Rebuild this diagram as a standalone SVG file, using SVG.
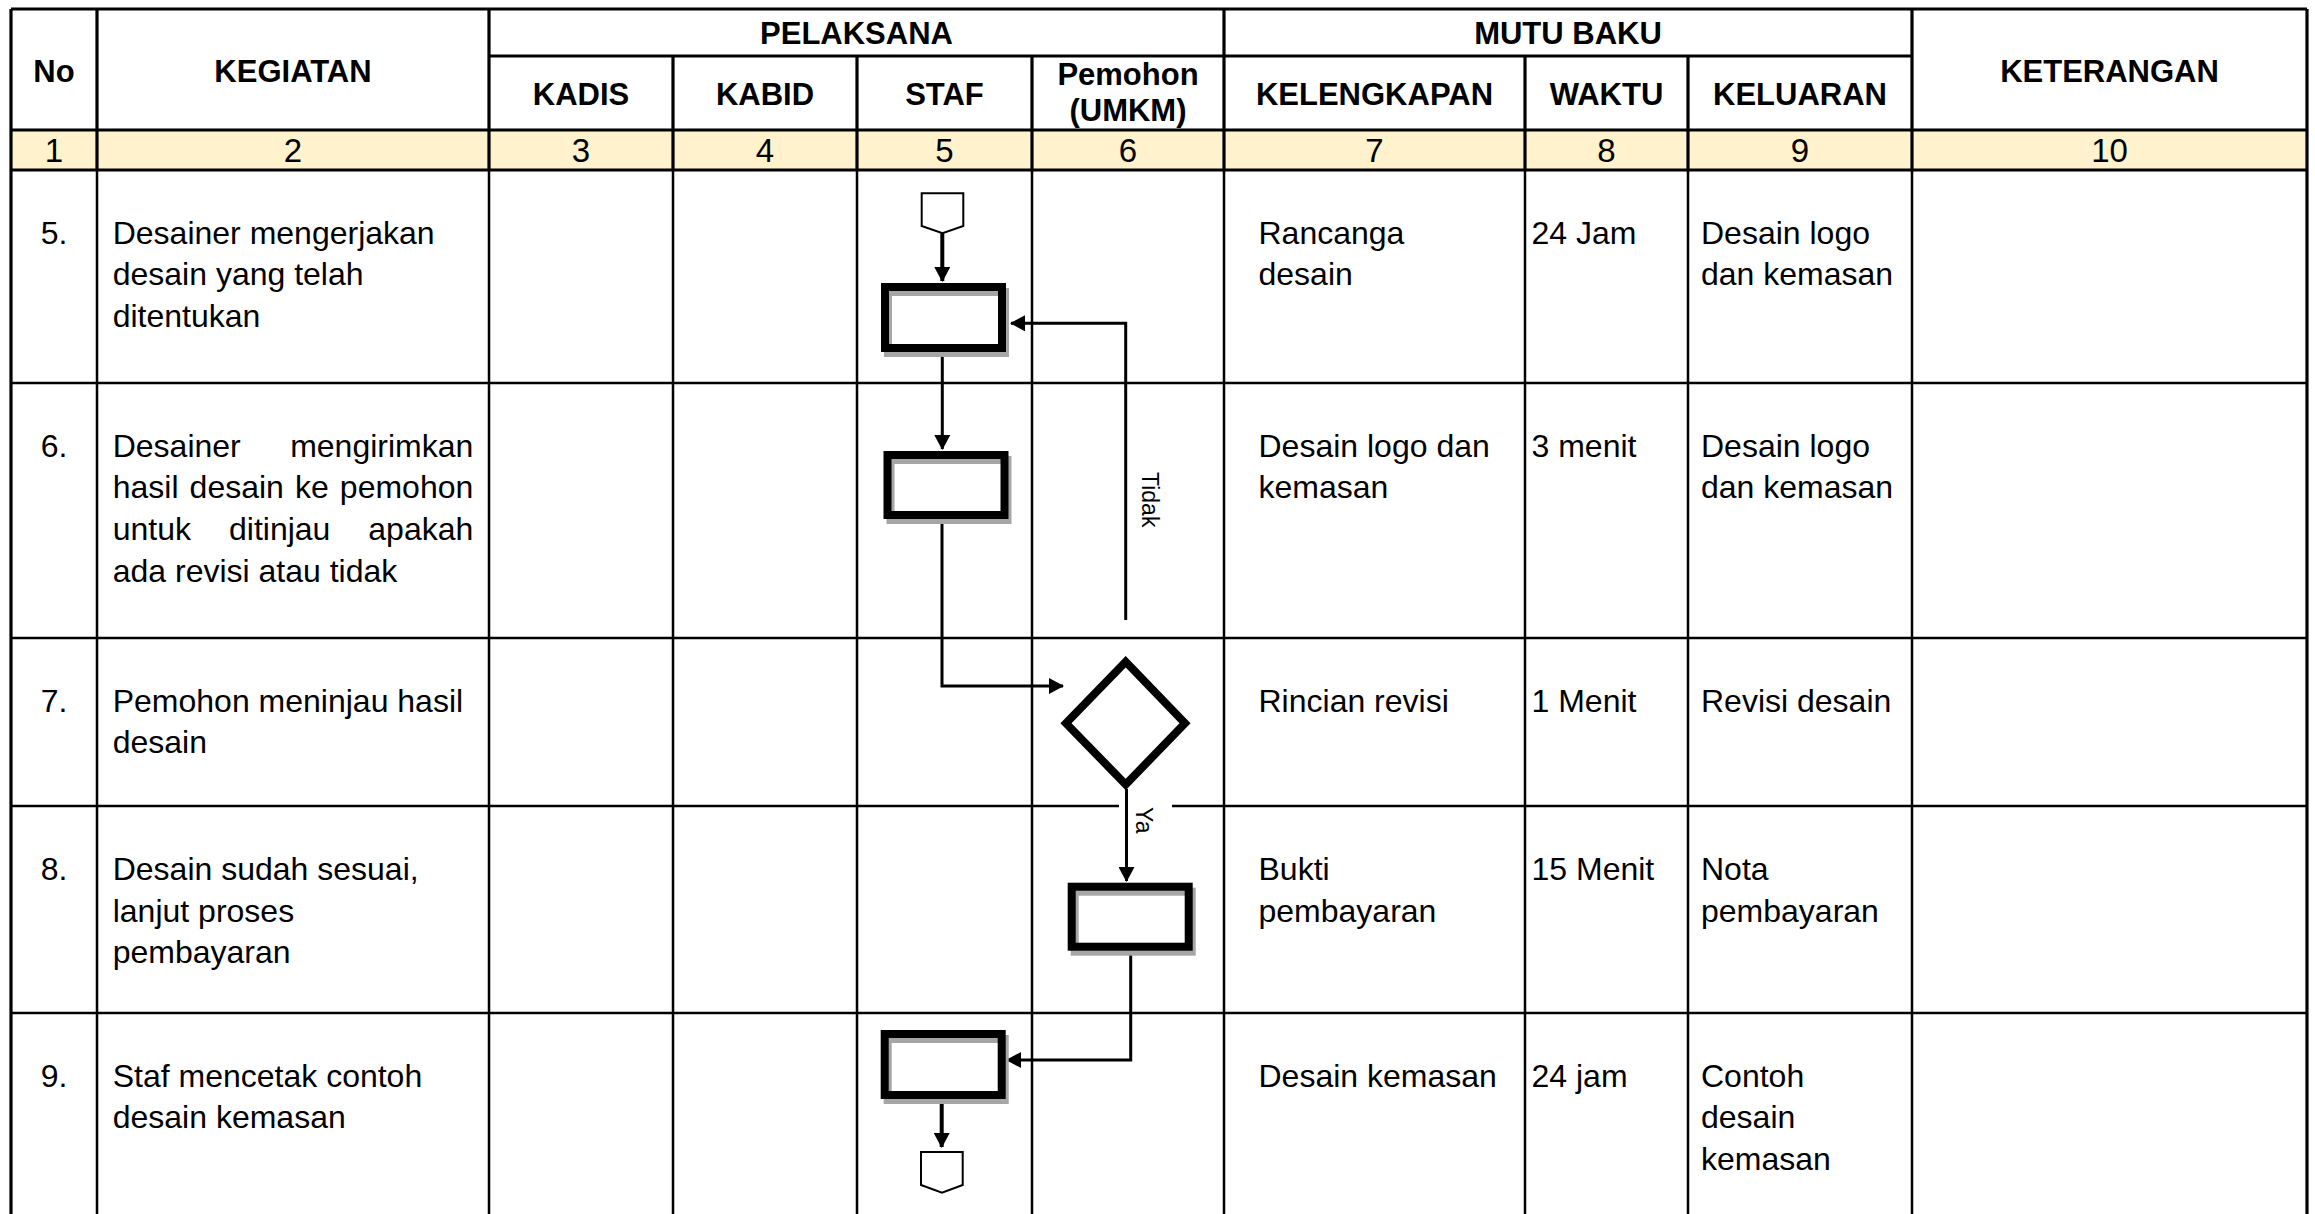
<svg xmlns="http://www.w3.org/2000/svg" width="2315" height="1214" viewBox="0 0 2315 1214">
<style>
  text { font-family: "Liberation Sans", Arial, sans-serif; fill: #000; }
  .h { font-size: 31px; font-weight: bold; text-anchor: middle; }
  .n { font-size: 33px; text-anchor: middle; }
  .t { font-size: 32px; }
  .c { text-anchor: middle; }
  .e { text-anchor: end; }
  .lbl { font-size: 23px; }
  .gh { stroke: #000; stroke-width: 3.2; fill: none; }
  .gb { stroke: #000; stroke-width: 2.5; fill: none; }
  .box { fill: none; stroke: #000; stroke-width: 8; }
  .shadow { fill: none; stroke: #A6A6A6; stroke-width: 8; }
  .conn { fill: none; stroke: #000; stroke-width: 3; }
  .conn4 { fill: none; stroke: #000; stroke-width: 4; }
  .off { fill: #fff; stroke: #000; stroke-width: 2; }
</style>
<defs>
  <marker id="arrow" viewBox="0 0 15 16" markerWidth="15" markerHeight="16" refX="14" refY="8" orient="auto" markerUnits="userSpaceOnUse">
    <path d="M0,0 L15,8 L0,16 z" fill="#000"/>
  </marker>
</defs>
<rect width="2315" height="1214" fill="#fff"/>

<g id="table">
  <rect x="11" y="130" width="2296" height="40" fill="#FFF2CC"/>
  <path class="gh" d="M11,9 H2307 M489,56 H1912 M11,130 H2307 M11,170 H2307"/>
  <path class="gh" d="M11,9 V1214 M2307,9 V1214 M97,9 V170 M489,9 V170 M1224,9 V170 M1912,9 V170 M673,56 V170 M857,56 V170 M1032,56 V170 M1525,56 V170 M1688,56 V170"/>
  <path class="gb" d="M97,170 V1214 M489,170 V1214 M673,170 V1214 M857,170 V1214 M1032,170 V1214 M1224,170 V1214 M1525,170 V1214 M1688,170 V1214 M1912,170 V1214"/>
  <path class="gb" d="M11,383 H2307 M11,638 H2307 M11,806 H2307 M11,1013 H2307"/>
</g>

<g id="header">
  <text class="h" x="54" y="81.5">No</text>
  <text class="h" x="293" y="81.5">KEGIATAN</text>
  <text class="h" x="856.5" y="43.5">PELAKSANA</text>
  <text class="h" x="1568" y="43.5">MUTU BAKU</text>
  <text class="h" x="2109.5" y="81.5">KETERANGAN</text>
  <text class="h" x="581" y="105">KADIS</text>
  <text class="h" x="765" y="105">KABID</text>
  <text class="h" x="944.5" y="105">STAF</text>
  <text class="h" x="1128" y="85">Pemohon</text>
  <text class="h" x="1128" y="121">(UMKM)</text>
  <text class="h" x="1374.5" y="105">KELENGKAPAN</text>
  <text class="h" x="1606.5" y="105">WAKTU</text>
  <text class="h" x="1800" y="105">KELUARAN</text>
  <text class="n" x="54" y="162">1</text>
  <text class="n" x="293" y="162">2</text>
  <text class="n" x="581" y="162">3</text>
  <text class="n" x="765" y="162">4</text>
  <text class="n" x="944.5" y="162">5</text>
  <text class="n" x="1128" y="162">6</text>
  <text class="n" x="1374.5" y="162">7</text>
  <text class="n" x="1606.5" y="162">8</text>
  <text class="n" x="1800" y="162">9</text>
  <text class="n" x="2109.5" y="162">10</text>
</g>

<g id="row5">
  <text class="t c" x="54" y="243.5">5.</text>
  <text class="t" x="112.7" y="243.5">Desainer mengerjakan<tspan x="112.7" dy="41.7">desain yang telah</tspan><tspan x="112.7" dy="41.7">ditentukan</tspan></text>
  <text class="t" x="1258.5" y="243.5">Rancanga<tspan x="1258.5" dy="41.7">desain</tspan></text>
  <text class="t" x="1531.5" y="243.5">24 Jam</text>
  <text class="t" x="1701" y="243.5">Desain logo<tspan x="1701" dy="41.7">dan kemasan</tspan></text>
</g>

<g id="row6">
  <text class="t c" x="54" y="456.5">6.</text>
  <text class="t" x="112.7" y="456.5">Desainer</text>
  <text class="t e" x="473.3" y="456.5">mengirimkan</text>
  <text class="t" x="112.7" y="498.2">hasil</text>
  <text class="t" x="189.6" y="498.2">desain</text>
  <text class="t" x="295" y="498.2">ke</text>
  <text class="t e" x="473.3" y="498.2">pemohon</text>
  <text class="t" x="112.7" y="539.9">untuk</text>
  <text class="t" x="229" y="539.9">ditinjau</text>
  <text class="t e" x="473.3" y="539.9">apakah</text>
  <text class="t" x="112.7" y="581.6">ada revisi atau tidak</text>
  <text class="t" x="1258.5" y="456.5">Desain logo dan<tspan x="1258.5" dy="41.7">kemasan</tspan></text>
  <text class="t" x="1531.5" y="456.5">3 menit</text>
  <text class="t" x="1701" y="456.5">Desain logo<tspan x="1701" dy="41.7">dan kemasan</tspan></text>
</g>

<g id="row7">
  <text class="t c" x="54" y="711.5">7.</text>
  <text class="t" x="112.7" y="711.5">Pemohon meninjau hasil<tspan x="112.7" dy="41.7">desain</tspan></text>
  <text class="t" x="1258.5" y="711.5">Rincian revisi</text>
  <text class="t" x="1531.5" y="711.5">1 Menit</text>
  <text class="t" x="1701" y="711.5">Revisi desain</text>
</g>

<g id="row8">
  <text class="t c" x="54" y="880">8.</text>
  <text class="t" x="112.7" y="880">Desain sudah sesuai,<tspan x="112.7" dy="41.7">lanjut proses</tspan><tspan x="112.7" dy="41.7">pembayaran</tspan></text>
  <text class="t" x="1258.5" y="880">Bukti<tspan x="1258.5" dy="41.7">pembayaran</tspan></text>
  <text class="t" x="1531.5" y="880">15 Menit</text>
  <text class="t" x="1701" y="880">Nota<tspan x="1701" dy="41.7">pembayaran</tspan></text>
</g>

<g id="row9">
  <text class="t c" x="54" y="1086.5">9.</text>
  <text class="t" x="112.7" y="1086.5">Staf mencetak contoh<tspan x="112.7" dy="41.7">desain kemasan</tspan></text>
  <text class="t" x="1258.5" y="1086.5">Desain kemasan</text>
  <text class="t" x="1531.5" y="1086.5">24 jam</text>
  <text class="t" x="1701" y="1086.5">Contoh<tspan x="1701" dy="41.7">desain</tspan><tspan x="1701" dy="41.7">kemasan</tspan></text>
</g>

<g id="ya-bg">
  <rect x="1119" y="796" width="53" height="46" fill="#fff"/>
</g>

<g id="connectors">
  <path class="conn4" d="M942.3,233 V281" marker-end="url(#arrow)"/>
  <path class="conn" d="M942.3,352 V449" marker-end="url(#arrow)"/>
  <path class="conn" d="M942,519 V686 H1063" marker-end="url(#arrow)"/>
  <path class="conn" d="M1125.7,620 V323.3 H1011" marker-end="url(#arrow)"/>
  <path class="conn" d="M1126.5,789 V881" marker-end="url(#arrow)"/>
  <path class="conn" d="M1130.7,951 V1060 H1007" marker-end="url(#arrow)"/>
  <path class="conn4" d="M941.7,1101 V1147" marker-end="url(#arrow)"/>
  <text class="lbl" transform="translate(1142,472) rotate(90)">Tidak</text>
  <text class="lbl" transform="translate(1136,807) rotate(90)">Ya</text>
</g>

<g id="start-connector">
  <polygon class="off" points="921.7,193.3 963.3,193.3 963.3,226 942.5,233.3 921.7,226"/>
</g>
<g id="box-desain">
  <rect class="shadow" x="888" y="292" width="117" height="61"/>
  <rect class="box" x="885" y="287" width="117" height="61"/>
</g>
<g id="box-kirim">
  <rect class="shadow" x="890.5" y="460" width="117" height="60"/>
  <rect class="box" x="887.5" y="455" width="117" height="60"/>
</g>
<g id="decision-tinjau">
  <polygon class="box" points="1125.7,661.7 1185,723.3 1125.7,784.5 1066,723.3"/>
</g>
<g id="box-bayar">
  <rect class="shadow" x="1074.7" y="891.7" width="117" height="60"/>
  <rect class="box" x="1071.7" y="886.7" width="117" height="60"/>
</g>
<g id="box-cetak">
  <rect class="shadow" x="887.7" y="1039" width="117" height="61"/>
  <rect class="box" x="884.7" y="1034" width="117" height="61"/>
</g>
<g id="end-connector">
  <polygon class="off" points="921,1152 962.7,1152 962.7,1185 942,1192.7 921,1185"/>
</g>
</svg>
